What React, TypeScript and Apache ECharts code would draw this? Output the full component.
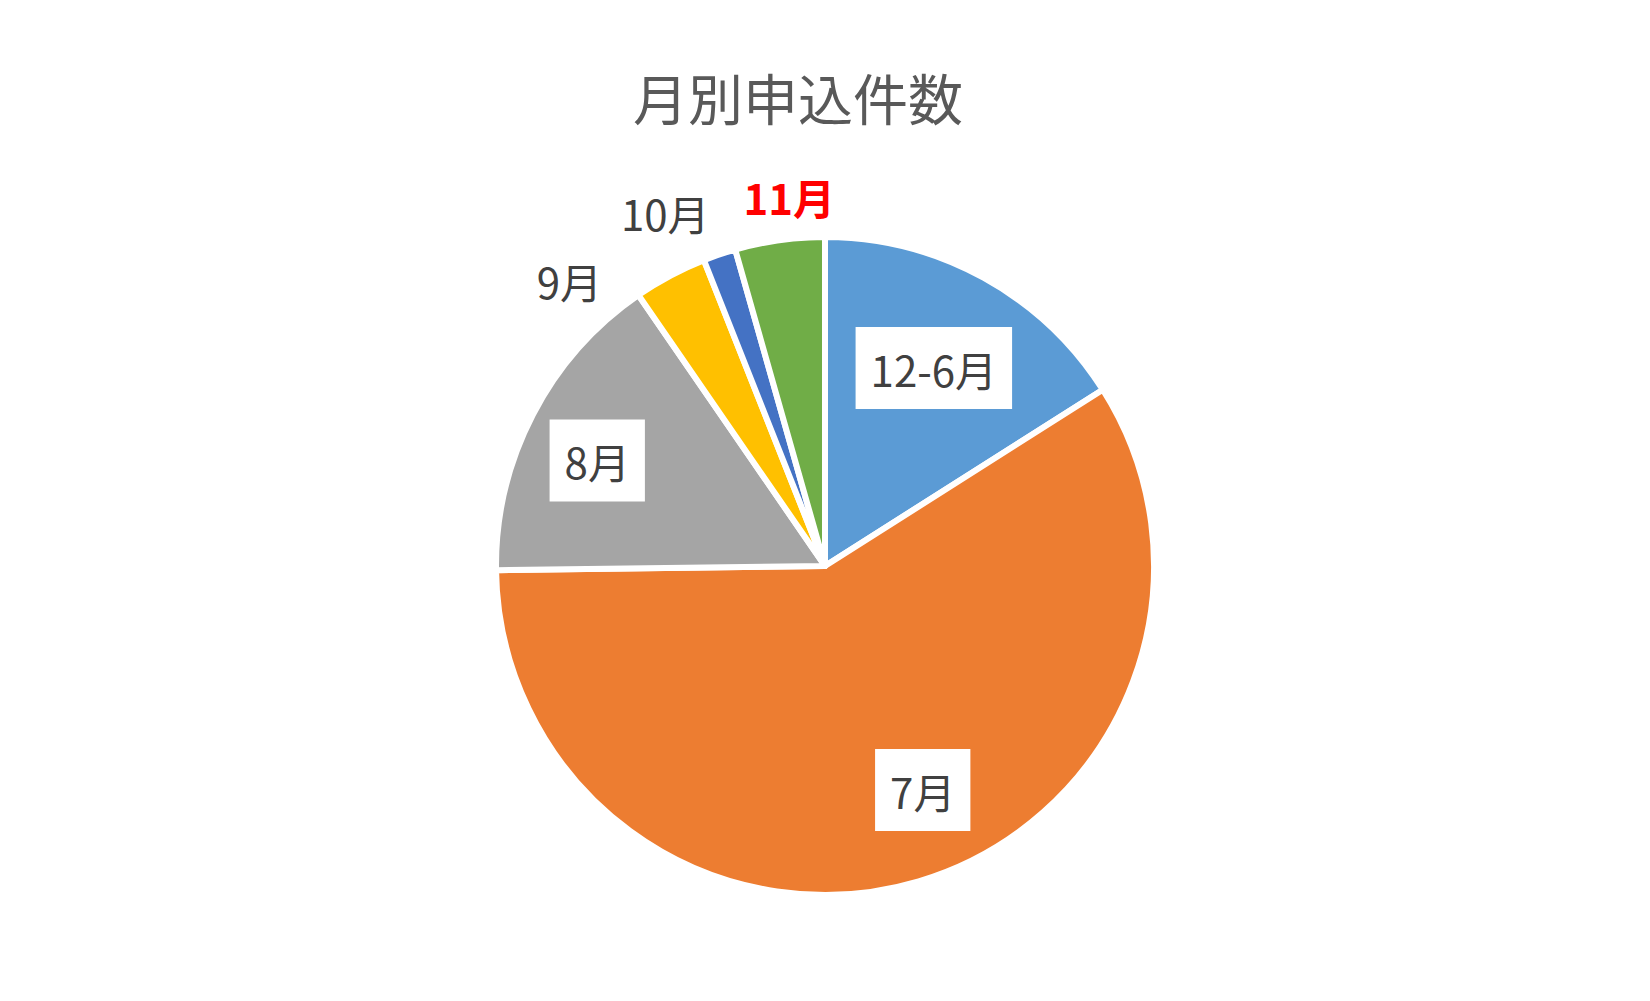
import { useEffect, useRef } from 'react'
import * as echarts from 'echarts'

const months = ['12-6月', '7月', '8月', '9月', '10月', '11月']
const counts = [40, 147, 39, 9, 4, 11]
const colors = ['#5B9BD5', '#ED7D31', '#A5A5A5', '#FFC000', '#4472C4', '#70AD47']

// ラベル位置: スライス中央からの角度ずれ(度) と 半径比
const labelShift = [0, -7, -2.5, -13.8, -5.6, 2.4]
const labelRadius = [0.693, 0.75, 0.77, 1.175, 1.19, 1.14]
const boxedLabel = [true, true, true, false, false, false]
const highlight = '11月'

const CX = 825
const CY = 566
const R = 326
const FONT = '"Noto Sans CJK JP", "Noto Sans", sans-serif'

export default function App() {
  const chartRef = useRef<HTMLDivElement>(null)

  useEffect(() => {
    if (!chartRef.current) return
    const chart = echarts.init(chartRef.current, null, { renderer: 'svg' })

    // スライスの中央角 (北から時計回り)
    const total = counts.reduce((a, b) => a + b, 0)
    let acc = 0
    const midAngles = counts.map(v => {
      const m = ((acc + v / 2) / total) * 360
      acc += v
      return m
    })

    const data = months.map((name, i) => ({
      name,
      value: counts[i],
      itemStyle: { color: colors[i] },
      label: boxedLabel[i]
        ? { backgroundColor: '#ffffff', padding: [20, 15] }
        : name === highlight
          ? { color: '#FF0000', fontWeight: 'bold' }
          : {},
    }))

    chart.setOption({
      animation: false,
      title: {
        text: '月別申込件数',
        left: 628,
        top: 63,
        textStyle: { fontFamily: FONT, fontSize: 55, fontWeight: 'normal', color: '#595959' },
      },
      series: [
        {
          type: 'pie',
          center: [CX, CY],
          radius: R + 3,
          startAngle: 90,
          clockwise: true,
          avoidLabelOverlap: false,
          itemStyle: { borderColor: '#ffffff', borderWidth: 6 },
          label: {
            show: true,
            position: 'inside',
            formatter: '{b}',
            fontFamily: FONT,
            fontSize: 42,
            lineHeight: 42,
            color: '#404040',
            textBorderWidth: 0,
          },
          labelLine: { show: false },
          labelLayout: (p: any) => {
            const i = p.dataIndex
            const a = ((midAngles[i] + labelShift[i]) * Math.PI) / 180
            return {
              x: CX + R * labelRadius[i] * Math.sin(a),
              y: CY - R * labelRadius[i] * Math.cos(a),
              align: 'center',
              verticalAlign: 'middle',
            }
          },
          emphasis: { disabled: true },
          data,
        },
      ],
    })

    return () => {
      chart.dispose()
    }
  }, [])

  return (
    <div
      ref={chartRef}
      style={{ position: 'fixed', left: 0, top: 0, width: '1650px', height: '1001px', background: '#fff' }}
    />
  )
}
